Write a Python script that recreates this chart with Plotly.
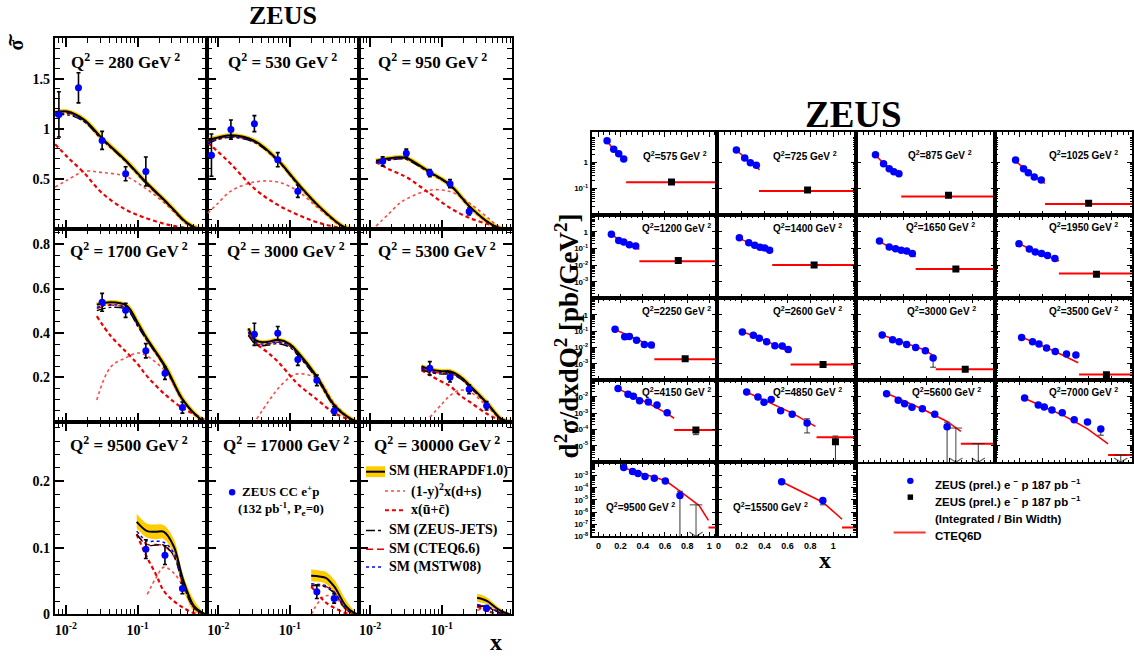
import plotly.graph_objects as go

W, H = 1134, 660
SERIF = "Liberation Serif"
SANS = "Liberation Sans"

# ===================== LEFT FIGURE : ZEUS CC e+p reduced cross section =====================
L_Q2 = [280, 530, 950, 1700, 3000, 5300, 9500, 17000, 30000]

L_data_x = [
    [0.008, 0.015, 0.032, 0.068, 0.13],
    [0.008, 0.015, 0.032, 0.068, 0.13],
    [0.015, 0.032, 0.068, 0.13, 0.24],
    [0.032, 0.068, 0.13, 0.24, 0.42],
    [0.032, 0.068, 0.13, 0.24, 0.42],
    [0.068, 0.13, 0.24, 0.42],
    [0.13, 0.24, 0.42],
    [0.24, 0.42],
    [0.42],
]
L_data_y = [
    [1.144, 1.409, 0.885, 0.552, 0.575],
    [0.738, 0.993, 1.052, 0.693, 0.379],
    [0.676, 0.758, 0.559, 0.454, 0.176],
    [0.538, 0.502, 0.320, 0.219, 0.064],
    [0.394, 0.399, 0.280, 0.187, 0.049],
    [0.241, 0.201, 0.147, 0.072],
    [0.098, 0.089, 0.039],
    [0.034, 0.024],
    [0.0094],
]
L_data_err = [
    [0.225, 0.15, 0.09, 0.07, 0.145],
    [0.21, 0.095, 0.08, 0.07, 0.062],
    [0.045, 0.04, 0.035, 0.04, 0.035],
    [0.04, 0.032, 0.032, 0.028, 0.025],
    [0.05, 0.03, 0.026, 0.024, 0.019],
    [0.03, 0.022, 0.02, 0.019],
    [0.014, 0.014, 0.008],
    [0.01, 0.007],
    [0.004],
]

L_curve_x = [
    [0.0071, 0.0105, 0.018, 0.032, 0.068, 0.13, 0.26, 0.49, 0.7, 0.9],
    [0.0071, 0.0096, 0.015, 0.032, 0.068, 0.13, 0.26, 0.55, 0.68, 0.9],
    [0.0121, 0.018, 0.026, 0.032, 0.068, 0.132, 0.245, 0.46, 0.64, 0.9],
    [0.027, 0.042, 0.07, 0.1, 0.132, 0.247, 0.43, 0.75, 0.9],
    [0.0264, 0.0344, 0.05, 0.0688, 0.1, 0.13, 0.243, 0.42, 0.72, 0.9],
    [0.052, 0.068, 0.1, 0.132, 0.178, 0.245, 0.43, 0.67, 0.9],
    [0.097, 0.136, 0.18, 0.232, 0.319, 0.43, 0.605, 0.78, 0.9],
    [0.2, 0.26, 0.32, 0.42, 0.61, 0.78, 0.9],
    [0.31, 0.37, 0.43, 0.6, 0.75, 0.9],
]
L_hera = [
    [1.165, 1.173, 1.09, 0.905, 0.685, 0.47, 0.26, 0.06, 0.005, 0.0],
    [0.885, 0.912, 0.935, 0.88, 0.69, 0.455, 0.225, 0.03, 0.008, 0.0],
    [0.683, 0.705, 0.716, 0.71, 0.569, 0.438, 0.225, 0.062, 0.01, 0.0],
    [0.527, 0.538, 0.523, 0.446, 0.379, 0.246, 0.098, 0.013, 0.0],
    [0.421, 0.364, 0.36, 0.369, 0.35, 0.313, 0.201, 0.076, 0.013, 0.0],
    [0.25, 0.236, 0.228, 0.227, 0.205, 0.164, 0.083, 0.013, 0.0],
    [0.139, 0.125, 0.124, 0.124, 0.102, 0.052, 0.013, 0.003, 0.0],
    [0.058, 0.057, 0.055, 0.042, 0.013, 0.003, 0.0],
    [0.025, 0.023, 0.02, 0.008, 0.003, 0.0],
]
L_band_lo = [None, None, None, None, None, None,
             [0.129, 0.115, 0.113, 0.113, 0.09, 0.038, 0.005, 0.0, 0.0],
             [0.05, 0.049, 0.046, 0.032, 0.005, 0.0, 0.0],
             [0.019, 0.017, 0.015, 0.004, 0.001, 0.0]]
L_band_hi = [None, None, None, None, None, None,
             [0.151, 0.136, 0.135, 0.134, 0.113, 0.06, 0.022, 0.006, 0.001],
             [0.068, 0.066, 0.064, 0.052, 0.022, 0.007, 0.001],
             [0.031, 0.029, 0.025, 0.012, 0.005, 0.001]]
L_zjets = [
    [1.13, 1.14, 1.07, 0.89, 0.675, 0.46, 0.25, 0.055, 0.004, 0.0],
    [0.85, 0.89, 0.915, 0.865, 0.68, 0.445, 0.22, 0.028, 0.006, 0.0],
    [0.66, 0.685, 0.7, 0.695, 0.56, 0.43, 0.22, 0.058, 0.008, 0.0],
    [0.5, 0.515, 0.505, 0.43, 0.37, 0.238, 0.093, 0.011, 0.0],
    [0.39, 0.345, 0.345, 0.352, 0.335, 0.3, 0.19, 0.07, 0.011, 0.0],
    [0.235, 0.222, 0.215, 0.214, 0.195, 0.156, 0.078, 0.011, 0.0],
    [0.12, 0.104, 0.104, 0.104, 0.088, 0.045, 0.01, 0.002, 0.0],
    [0.043, 0.043, 0.041, 0.032, 0.008, 0.001, 0.0],
    [0.013, 0.012, 0.011, 0.004, 0.001, 0.0],
]
L_cteq = [
    [1.15, 1.16, 1.08, 0.895, 0.68, 0.465, 0.255, 0.058, 0.004, 0.0],
    [0.87, 0.9, 0.925, 0.87, 0.685, 0.45, 0.222, 0.029, 0.007, 0.0],
    [0.67, 0.695, 0.708, 0.703, 0.565, 0.434, 0.222, 0.06, 0.009, 0.0],
    [0.51, 0.525, 0.51, 0.435, 0.372, 0.24, 0.095, 0.012, 0.0],
    [0.4, 0.35, 0.35, 0.358, 0.34, 0.305, 0.195, 0.072, 0.012, 0.0],
    [0.24, 0.226, 0.219, 0.218, 0.198, 0.158, 0.08, 0.012, 0.0],
    [0.121, 0.105, 0.105, 0.103, 0.087, 0.044, 0.01, 0.002, 0.0],
    [0.044, 0.044, 0.042, 0.033, 0.009, 0.001, 0.0],
    [0.014, 0.013, 0.011, 0.004, 0.001, 0.0],
]
L_mstw = [
    [1.14, 1.155, 1.075, 0.9, 0.68, 0.46, 0.255, 0.057, 0.004, 0.0],
    [0.86, 0.895, 0.92, 0.87, 0.682, 0.448, 0.22, 0.028, 0.006, 0.0],
    [0.665, 0.69, 0.705, 0.7, 0.562, 0.432, 0.22, 0.059, 0.008, 0.0],
    [0.515, 0.528, 0.512, 0.438, 0.373, 0.242, 0.095, 0.012, 0.0],
    [0.405, 0.355, 0.352, 0.36, 0.342, 0.306, 0.196, 0.073, 0.012, 0.0],
    [0.242, 0.228, 0.221, 0.22, 0.2, 0.16, 0.08, 0.012, 0.0],
    [0.125, 0.11, 0.11, 0.108, 0.092, 0.047, 0.011, 0.002, 0.0],
    [0.046, 0.045, 0.043, 0.034, 0.009, 0.001, 0.0],
    [0.015, 0.013, 0.012, 0.005, 0.001, 0.0],
]
L_ubar = [
    [0.846, 0.72, 0.56, 0.36, 0.195, 0.111, 0.046, 0.012, 0.003, 0.0],
    [0.86, 0.78, 0.65, 0.405, 0.242, 0.144, 0.062, 0.01, 0.004, 0.0],
    [0.67, 0.6, 0.55, 0.52, 0.356, 0.209, 0.111, 0.046, 0.012, 0.0],
    [0.476, 0.387, 0.313, 0.26, 0.209, 0.12, 0.061, 0.02, 0.005],
    [0.39, 0.35, 0.31, 0.27, 0.21, 0.17, 0.1, 0.04, 0.008, 0.002],
    [0.232, 0.21, 0.18, 0.16, 0.12, 0.09, 0.035, 0.006, 0.0],
    [0.12, 0.085, 0.06, 0.035, 0.02, 0.01, 0.002, 0.0, 0.0],
    [0.042, 0.028, 0.018, 0.01, 0.002, 0.0, 0.0],
    [0.012, 0.008, 0.005, 0.001, 0.0, 0.0],
]
L_dplus = [
    [0.42, 0.49, 0.575, 0.565, 0.526, 0.405, 0.235, 0.05, 0.004, 0.0],
    [0.16, 0.25, 0.38, 0.47, 0.47, 0.38, 0.2, 0.028, 0.007, 0.0],
    [0.03, 0.15, 0.26, 0.3, 0.389, 0.373, 0.258, 0.1, 0.02, 0.0],
    [0.098, 0.246, 0.29, 0.31, 0.298, 0.224, 0.09, 0.012, 0.0],
    [None, 0.013, 0.09, 0.15, 0.2, 0.216, 0.194, 0.083, 0.013, 0.0],
    [None, 0.02, 0.08, 0.12, 0.142, 0.135, 0.068, 0.012, 0.0],
    [None, 0.03, 0.055, 0.071, 0.062, 0.042, 0.012, 0.002, 0.0],
    [0.0, 0.02, 0.028, 0.026, 0.008, 0.001, 0.0],
    [0.006, 0.009, 0.01, 0.005, 0.001, 0.0],
]
L_yticks = [[0.5, 1, 1.5], [0.2, 0.4, 0.6, 0.8], [0, 0.1, 0.2]]
L_ytext = [["0.5", "1", "1.5"], ["0.2", "0.4", "0.6", "0.8"], ["0", "0.1", "0.2"]]
L_xticks = [0.01, 0.1]
L_xtext = ["10<sup>-2</sup>", "10<sup>-1</sup>"]

# ===================== RIGHT FIGURE : ZEUS e-p d2sigma/dxdQ2 =====================
R_Q2 = [575, 725, 875, 1025, 1200, 1400, 1650, 1950, 2250, 2600, 3000, 3500,
        4150, 4850, 5600, 7000, 9500, 15500]
R_blue_x = [
    [0.078, 0.138, 0.183, 0.228],
    [0.155, 0.228, 0.277, 0.329],
    [0.158, 0.228, 0.277, 0.317, 0.361],
    [0.163, 0.233, 0.274, 0.326, 0.387],
    [0.117, 0.183, 0.228, 0.279, 0.336],
    [0.181, 0.263, 0.315, 0.361, 0.402, 0.445],
    [0.193, 0.277, 0.332, 0.381, 0.428, 0.477],
    [0.193, 0.283, 0.335, 0.39, 0.442, 0.506],
    [0.150, 0.237, 0.279, 0.344, 0.414, 0.477],
    [0.207, 0.303, 0.355, 0.419, 0.491, 0.555, 0.607],
    [0.216, 0.306, 0.363, 0.428, 0.506, 0.59, 0.657],
    [0.216, 0.311, 0.367, 0.433, 0.509, 0.607, 0.689],
    [0.177, 0.267, 0.315, 0.371, 0.45, 0.528, 0.62],
    [0.245, 0.343, 0.396, 0.459, 0.541, 0.642, 0.772],
    [0.254, 0.355, 0.41, 0.474, 0.564, 0.671, 0.778],
    [0.242, 0.361, 0.413, 0.48, 0.57, 0.674, 0.79, 0.906],
    [0.228, 0.308, 0.357, 0.42, 0.504, 0.603, 0.735],
    [0.55, 0.909],
]
R_blue_y = [
    [6.8, 3.19, 2.12, 1.33],
    [3.0, 1.46, 0.96, 0.77],
    [1.94, 0.88, 0.57, 0.43, 0.36],
    [1.22, 0.57, 0.40, 0.27, 0.21],
    [0.74, 0.31, 0.25, 0.17, 0.143],
    [0.445, 0.224, 0.157, 0.119, 0.109, 0.079],
    [0.283, 0.124, 0.099, 0.079, 0.072, 0.0497],
    [0.196, 0.095, 0.063, 0.05, 0.038, 0.025],
    [0.13, 0.0448, 0.0467, 0.0283, 0.0154, 0.0142],
    [0.0895, 0.0566, 0.0373, 0.0223, 0.0128, 0.0123, 0.00767],
    [0.059, 0.0295, 0.0223, 0.0154, 0.0101, 0.0064, 0.00233],
    [0.0407, 0.0223, 0.0163, 0.0093, 0.00582, 0.00405, 0.00353],
    [0.0316, 0.01436, 0.01087, 0.00566, 0.00473, 0.00312, 0.00107],
    [0.0197, 0.00946, 0.00454, 0.00687, 0.00142, 0.00086, 0.000247],
    [0.015, 0.006, 0.00373, 0.00226, 0.00187, 0.00086, 0.000148],
    [0.00824, 0.00312, 0.00236, 0.00156, 0.00107, 0.00039, 0.000283, 0.000107],
    [0.0047, 0.0022, 0.00152, 0.000865, 0.00063, 0.000359, 2.3e-5],
    [3.16e-4, 8.9e-6],
]
# error bars drawn on individual blue points (panel, point, lower end, upper end)
R_berr_panel = [10, 13, 14, 15, 16, 17]
R_berr_point = [6, 6, 6, 7, 6, 1]
R_berr_lo = [6.3e-4, 6.2e-5, 1e-9, 4.5e-5, 1e-9, 4e-6]
R_berr_hi = [0.00233, 4.5e-4, 2.8e-4, 0.000107, 5.2e-5, 8.9e-6]

R_sq_x = [0.659, 0.776, 0.79, 0.80, 0.72, 0.833, 0.854, 0.868, 0.782, 0.911, 0.935, 0.955,
          0.879, 1.019, None, None, None, None]
R_sq_y = [0.174, 0.086, 0.054, 0.0267, 0.019, 0.0101, 0.0059, 0.0028, 0.00204, 0.00091,
          0.00048, 0.00022, 9.3e-5, 1.8e-5, None, None, None, None]
R_sqerr_panel = [12, 13]
R_sqerr_lo = [4.9e-5, 1e-9]
R_sqerr_hi = [9.3e-5, 4e-5]

R_bin_lo = [0.25, 0.352, 0.381, 0.42, 0.369, 0.468, 0.506, 0.541, 0.504, 0.628, 0.68, 0.717,
            0.683, 0.854, 0.897, 0.97, 0.992, 1.077]
R_bin_hi = [1.2] * 18
R_bin_pred = [0.17, 0.079, 0.048, 0.025, 0.017, 0.0101, 0.0059, 0.0031, 0.0019, 0.00091,
              0.00048, 0.00023, 9.3e-5, 3.4e-5, 1.38e-5, 2.75e-6, 5.4e-8, 5.4e-8]

R_line_x = [
    [0.069, 0.138, 0.183, 0.234],
    [0.15, 0.228, 0.277, 0.329, 0.358],
    [0.143, 0.228, 0.317, 0.381],
    [0.143, 0.233, 0.326, 0.419],
    [0.099, 0.183, 0.279, 0.369],
    [0.163, 0.263, 0.361, 0.468],
    [0.172, 0.277, 0.381, 0.506],
    [0.172, 0.283, 0.39, 0.541],
    [0.144, 0.279, 0.414, 0.504],
    [0.193, 0.355, 0.491, 0.628],
    [0.216, 0.363, 0.506, 0.59, 0.657],
    [0.21, 0.367, 0.509, 0.709],
    [0.16, 0.315, 0.45, 0.6, 0.683],
    [0.23, 0.459, 0.642, 0.845],
    [0.259, 0.564, 0.778, 0.897],
    [0.224, 0.57, 0.674, 0.79, 0.97],
    [0.219, 0.607, 0.729, 0.908, 0.992],
    [0.55, 0.909, 1.077],
]
R_line_y = [
    [7.2, 3.1, 2.05, 1.15],
    [3.1, 1.45, 0.98, 0.68, 0.51],
    [2.25, 0.9, 0.45, 0.295],
    [1.37, 0.6, 0.28, 0.155],
    [0.89, 0.35, 0.17, 0.091],
    [0.49, 0.22, 0.12, 0.058],
    [0.31, 0.13, 0.075, 0.032],
    [0.237, 0.097, 0.05, 0.018],
    [0.13, 0.05, 0.02, 0.0093],
    [0.103, 0.038, 0.0145, 0.005],
    [0.059, 0.024, 0.011, 0.0068, 0.0032],
    [0.045, 0.016, 0.0058, 0.00117],
    [0.0347, 0.0112, 0.004, 0.00112, 0.00049],
    [0.0219, 0.004, 0.001, 1.55e-4],
    [0.0158, 0.0018, 3.1e-4, 7.8e-5],
    [0.0091, 7.8e-4, 3.2e-4, 1.1e-4, 1.35e-5],
    [0.0047, 3.8e-4, 5.9e-5, 3.5e-6, 2.1e-7],
    [3.16e-4, 6.6e-6, 2.6e-7],
]
# upper limits (arrows)
R_lim_panel = [14, 14, 15, 16]
R_lim_x = [0.854, 1.048, 1.08, 0.88]
R_lim_y = [1.23e-4, 1.38e-5, 2.75e-6, 4e-6]

R_yticks = [[1, 0.1], [1, 0.1, 0.01, 0.001], [1, 0.1, 0.01, 0.001],
            [1e-2, 1e-3, 1e-4, 1e-5], [1e-3, 1e-4, 1e-5, 1e-6, 1e-7, 1e-8]]
R_xticks = [0, 0.2, 0.4, 0.6, 0.8, 1.0]
R_xtext = ["0", "0.2", "0.4", "0.6", "0.8", "1"]

# ===================== geometry / style =====================
L_cols = [(54, 207), (207, 359), (359, 512)]
L_rows = [(38, 232), (232, 427), (427, 622)]
L_yrange = [[0, 1.91], [0, 0.867], [0, 0.289]]
L_ydminor = [0.1, 0.05, 0.02]
L_xrange = [-2.153, -0.028]

R_cols = [(593, 718), (718, 857), (857, 997), (997, 1134)]
R_rows = [(134, 218), (218, 302), (302, 385), (385, 468), (468, 543)]
R_xrange = [[-0.054, 1.07], [-0.013, 1.196], [-0.013, 1.196], [-0.013, 1.178]]
R_yrange = [[-2.04, 1.15], [-4, 1], [-4, 1], [-6, -1], [-8, -1.9]]

YELLOW = "#ffcc00"
RED = "#ff0000"
BLUE = "#0000ff"

def px(x):
    return x / W

def py(y):
    return 1 - y / H

def ytext(v):
    if v == 1:
        return "1"
    e = 0
    t = v
    while t < 0.999:
        t *= 10
        e += 1
    return "10<sup>-%d</sup>" % e

minor_log = [m * 10.0 ** d for d in range(-9, 2) for m in range(2, 10)]

fig = go.Figure()
layout = {}

# ---------------- left panels ----------------
for i in range(9):
    r, c = divmod(i, 3)
    n = i + 1
    xa, ya = "x%d" % n, "y%d" % n
    cx = L_curve_x[i]
    common = dict(xaxis=xa, yaxis=ya, showlegend=False, hoverinfo="skip", mode="lines")
    if L_band_lo[i] is not None:
        fig.add_trace(go.Scatter(x=cx, y=L_band_lo[i], line=dict(width=0, shape="spline", color=YELLOW), **common))
        fig.add_trace(go.Scatter(x=cx, y=L_band_hi[i], line=dict(width=0, shape="spline", color=YELLOW),
                                 fill="tonexty", fillcolor=YELLOW, **common))
    else:
        fig.add_trace(go.Scatter(x=cx, y=L_hera[i], line=dict(width=4.5, shape="spline", color=YELLOW), **common))
    fig.add_trace(go.Scatter(x=cx, y=L_dplus[i], line=dict(width=1.6, shape="spline", color="#ff4848", dash="dot"), **common))
    fig.add_trace(go.Scatter(x=cx, y=L_ubar[i], line=dict(width=2.2, shape="spline", color="#ee0000", dash="4px,3px"), **common))
    fig.add_trace(go.Scatter(x=cx, y=L_cteq[i], line=dict(width=1.4, shape="spline", color="#dd0000", dash="7px,4px"), **common))
    fig.add_trace(go.Scatter(x=cx, y=L_zjets[i], line=dict(width=1.3, shape="spline", color="black", dash="dashdot"), **common))
    fig.add_trace(go.Scatter(x=cx, y=L_mstw[i], line=dict(width=1.5, shape="spline", color=BLUE, dash="dot"), **common))
    fig.add_trace(go.Scatter(x=cx, y=L_hera[i], line=dict(width=2, shape="spline", color="black"), **common))
    fig.add_trace(go.Scatter(x=L_data_x[i], y=L_data_y[i], mode="markers", xaxis=xa, yaxis=ya,
                             showlegend=False, marker=dict(color=BLUE, size=7),
                             error_y=dict(type="data", array=L_data_err[i], color="black", thickness=1.6, width=2)))

    x0, x1 = L_cols[c]
    y0, y1 = L_rows[r]
    tf = dict(family=SERIF, size=14, color="black", weight="bold")
    layout["xaxis" if n == 1 else "xaxis%d" % n] = dict(
        domain=[px(x0), px(x1)], anchor=ya, type="log", range=L_xrange,
        tickmode="array", tickvals=L_xticks, ticktext=L_xtext, showticklabels=(r == 2),
        ticks="inside", ticklen=9, tickwidth=1.5, tickcolor="black",
        minor=dict(tickmode="array", tickvals=minor_log, ticks="inside", ticklen=5, tickwidth=1, tickcolor="black"),
        showline=True, linewidth=2, linecolor="black", mirror="allticks",
        showgrid=False, zeroline=False, tickfont=tf, ticklabelstandoff=2)
    layout["yaxis" if n == 1 else "yaxis%d" % n] = dict(
        domain=[py(y1), py(y0)], anchor=xa, range=L_yrange[r],
        tickmode="array", tickvals=L_yticks[r], ticktext=L_ytext[r], showticklabels=(c == 0),
        ticks="inside", ticklen=9, tickwidth=1.5, tickcolor="black",
        minor=dict(dtick=L_ydminor[r], ticks="inside", ticklen=5, tickwidth=1, tickcolor="black"),
        showline=True, linewidth=2, linecolor="black", mirror="allticks",
        showgrid=False, zeroline=False, tickfont=tf)

# ---------------- right panels ----------------
for j in range(18):
    r, c = divmod(j, 4)
    n = 10 + j
    xa, ya = "x%d" % n, "y%d" % n
    common = dict(xaxis=xa, yaxis=ya, showlegend=False, hoverinfo="skip")
    fig.add_trace(go.Scatter(x=R_line_x[j], y=R_line_y[j], mode="lines",
                             line=dict(color=RED, width=1.6), **common))
    fig.add_trace(go.Scatter(x=[R_bin_lo[j], R_bin_hi[j]], y=[R_bin_pred[j], R_bin_pred[j]], mode="lines",
                             line=dict(color=RED, width=2), **common))
    up = [None] * len(R_blue_y[j])
    dn = [None] * len(R_blue_y[j])
    for k, p in enumerate(R_berr_panel):
        if p == j:
            q = R_berr_point[k]
            yv = R_blue_y[j][q]
            up[q] = R_berr_hi[k] - yv
            dn[q] = yv - R_berr_lo[k]
    fig.add_trace(go.Scatter(x=R_blue_x[j], y=R_blue_y[j], mode="markers",
                             marker=dict(color=BLUE, size=7.5),
                             error_y=dict(type="data", symmetric=False, array=up, arrayminus=dn,
                                          color="#333333", thickness=1, width=3), **common))
    if R_sq_x[j] is not None:
        su, sd = [None], [None]
        for k, p in enumerate(R_sqerr_panel):
            if p == j:
                su = [R_sqerr_hi[k] - R_sq_y[j]]
                sd = [R_sq_y[j] - R_sqerr_lo[k]]
        fig.add_trace(go.Scatter(x=[R_sq_x[j]], y=[R_sq_y[j]], mode="markers",
                                 marker=dict(color="black", size=7, symbol="square"),
                                 error_y=dict(type="data", symmetric=False, array=su, arrayminus=sd,
                                              color="#333333", thickness=1, width=3), **common))
    for k, p in enumerate(R_lim_panel):
        if p == j:
            ybot = 10 ** R_yrange[r][0]
            fig.add_trace(go.Scatter(x=[R_lim_x[k], R_lim_x[k]], y=[R_lim_y[k], ybot], mode="lines+markers",
                                     line=dict(color="#444444", width=1),
                                     marker=dict(symbol=["line-ew", "y-down"], size=[9, 11],
                                                 line=dict(color="#222222", width=1.2)),
                                     **common))

    x0, x1 = R_cols[c]
    y0, y1 = R_rows[r]
    tf = dict(family=SANS, size=8, color="black", weight="bold")
    layout["xaxis%d" % n] = dict(
        domain=[px(x0), px(x1)], anchor=ya, range=R_xrange[c],
        tickmode="array", tickvals=R_xticks, ticktext=R_xtext, showticklabels=(r == 4),
        ticks="inside", ticklen=5, tickwidth=1, tickcolor="black",
        minor=dict(dtick=0.05, ticks="inside", ticklen=2.5, tickwidth=1, tickcolor="black"),
        showline=True, linewidth=1.6, linecolor="black", mirror="allticks",
        showgrid=False, zeroline=False, tickfont=dict(family=SANS, size=9, color="black", weight="bold"))
    layout["yaxis%d" % n] = dict(
        domain=[py(y1), py(y0)], anchor=xa, type="log", range=R_yrange[r],
        tickmode="array", tickvals=R_yticks[r], ticktext=[ytext(v) for v in R_yticks[r]],
        showticklabels=(c == 0),
        ticks="inside", ticklen=5, tickwidth=1, tickcolor="black",
        minor=dict(tickmode="array", tickvals=minor_log, ticks="inside", ticklen=2.5, tickwidth=1, tickcolor="black"),
        showline=True, linewidth=1.6, linecolor="black", mirror="allticks",
        showgrid=False, zeroline=False, tickfont=tf, ticklabelstandoff=1)

# ---------------- annotations ----------------
ann = []
def text(x, y, s, size, family, xanchor="center", yanchor="middle", angle=0):
    ann.append(dict(x=px(x), y=py(y), xref="paper", yref="paper", text=s, showarrow=False,
                    xanchor=xanchor, yanchor=yanchor, textangle=angle,
                    font=dict(family=family, size=size, color="black", weight="bold")))

# left titles
text(283, 16, "ZEUS", 26, SERIF)
text(9, 40, "~", 18, "DejaVu Serif", angle=-90)
text(15, 45, "σ", 20, SERIF, angle=-90)
text(496, 650, "x", 24, SERIF)
L_lab_pos = [(125, 62), (282, 62), (433, 62), (128, 253), (286, 253), (437, 253),
             (128, 449), (286, 449), (437, 449)]
for i, q in enumerate(L_Q2):
    text(L_lab_pos[i][0], L_lab_pos[i][1], "Q<sup>2</sup> = %d GeV<sup> 2</sup>" % q, 17, SERIF)

# left legend
text(240, 497, "ZEUS CC e<sup>+</sup>p", 13, SERIF, xanchor="left")
text(236, 515, "(132 pb<sup>-1</sup>, P<sub>e</sub>=0)", 13, SERIF, xanchor="left")
leg_rows = [("SM (HERAPDF1.0)", 387, 477), ("(1-y)<sup>2</sup>x(d+s)", 409, 497),
            ("x(ū+c̄)", 409, 516), ("SM (ZEUS-JETS)", 387, 537),
            ("SM (CTEQ6.6)", 387, 556), ("SM (MSTW08)", 387, 574)]
for s, x, y in leg_rows:
    text(x, y, s, 14, SERIF, xanchor="left")

# right titles
text(855, 116, "ZEUS", 37, SERIF)
text(567, 340, "d<sup>2</sup>σ/dxdQ<sup>2</sup> [pb/GeV<sup>2</sup>]", 27, SERIF, angle=-90)
text(826, 567, "x", 24, SERIF)
R_lab_pos = [(642, 158), (772, 158), (907, 157), (1049, 157),
             (641, 231), (772, 231), (905, 230), (1049, 230),
             (641, 315), (772, 315), (906, 315), (1049, 315),
             (641, 397), (772, 397), (911, 397), (1049, 397),
             (605, 513), (732, 513)]
for j, q in enumerate(R_Q2):
    text(R_lab_pos[j][0], R_lab_pos[j][1], "Q<sup>2</sup>=%d GeV <sup>2</sup>" % q, 10, SANS, xanchor="left")

# right legend
text(934, 490, "ZEUS (prel.) e <sup>−</sup> p 187 pb <sup>−1</sup>", 11.5, SANS, xanchor="left")
text(934, 507, "ZEUS (prel.) e <sup>−</sup> p 187 pb <sup>−1</sup>", 11.5, SANS, xanchor="left")
text(934, 525, "(Integrated / Bin Width)", 11.5, SANS, xanchor="left")
text(934, 543, "CTEQ6D", 11.5, SANS, xanchor="left")

# ---------------- legend sample shapes ----------------
shapes = []
def hline(x0, x1, y, color, width, dash="solid"):
    shapes.append(dict(type="line", xref="paper", yref="paper", x0=px(x0), x1=px(x1), y0=py(y), y1=py(y),
                       line=dict(color=color, width=width, dash=dash)))

shapes.append(dict(type="rect", xref="paper", yref="paper", x0=px(366), x1=px(385), y0=py(483), y1=py(472),
                   fillcolor=YELLOW, line=dict(width=0)))
hline(366, 385, 477.5, "black", 2)
hline(385, 405, 497, "#ff4848", 1.6, "dot")
hline(385, 405, 516.5, "#ee0000", 2.2, "4px,3px")
hline(366, 384, 537, "black", 1.3, "dashdot")
hline(366, 384, 556, "#dd0000", 1.4, "7px,4px")
hline(366, 384, 574, BLUE, 1.5, "dot")
shapes.append(dict(type="circle", xref="paper", yref="paper", x0=px(228.5), x1=px(235), y0=py(501.5), y1=py(495),
                   fillcolor=BLUE, line=dict(width=0)))
shapes.append(dict(type="circle", xref="paper", yref="paper", x0=px(908.5), x1=px(915), y0=py(490), y1=py(483.5),
                   fillcolor=BLUE, line=dict(width=0)))
shapes.append(dict(type="rect", xref="paper", yref="paper", x0=px(909), x1=px(914.5), y0=py(506), y1=py(500.5),
                   fillcolor="black", line=dict(width=0)))
hline(895, 927, 539, "#ff3030", 2)

fig.update_layout(width=W, height=H, autosize=False, margin=dict(l=0, r=0, t=0, b=0),
                  paper_bgcolor="white", plot_bgcolor="white", showlegend=False,
                  annotations=ann, shapes=shapes, **layout)
fig.write_html("out.html")
